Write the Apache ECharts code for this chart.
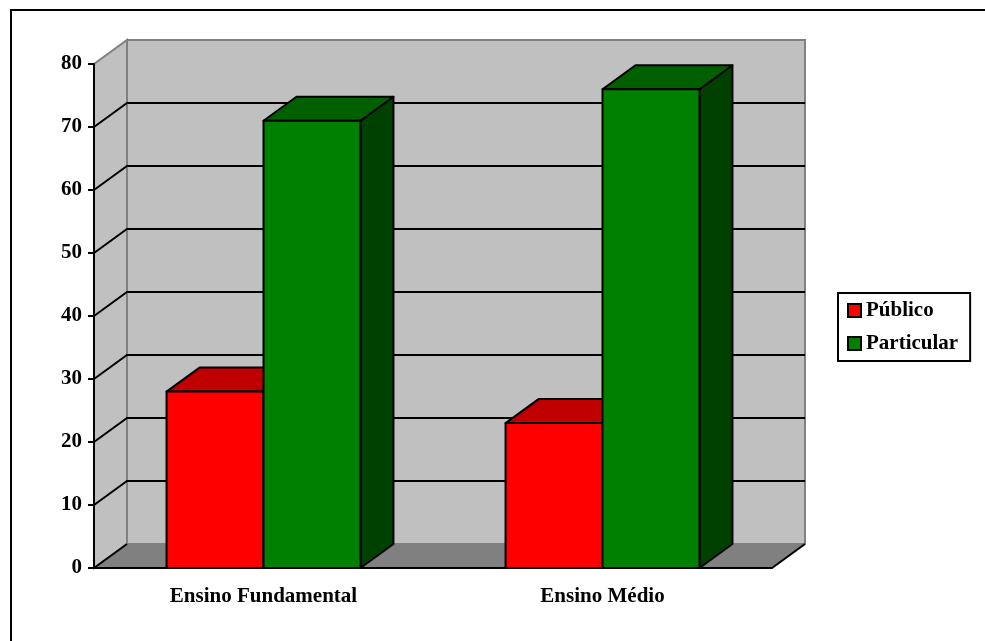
<!DOCTYPE html>
<html>
<head>
<meta charset="utf-8">
<script src="https://cdn.jsdelivr.net/npm/echarts@6/dist/echarts.min.js"></script>
<style>
  html, body { margin: 0; padding: 0; background: #fff; }
  #chart { width: 985px; height: 641px; }
</style>
</head>
<body>
<div id="chart"></div>
<script>
const categories = ['Ensino Fundamental', 'Ensino Médio']
const publico = [28, 23]
const particular = [71, 76]
const yMin = 0
const yMax = 80
const yStep = 10

// 3D depth offset of the box (px)
const DX = 33
const DY = -24
const FONT = "'Liberation Serif', 'Times New Roman', serif"

const chart = echarts.init(document.getElementById('chart'))

function wallsItem(params, api) {
  const cs = params.coordSys
  const x0 = cs.x, y0 = cs.y, w = cs.width, h = cs.height
  const yb = y0 + h
  const children = []
  // back wall
  children.push({
    type: 'rect',
    shape: { x: x0 + DX, y: y0 + DY, width: w, height: h },
    style: { fill: '#c0c0c0', stroke: '#808080', lineWidth: 2 },
  })
  // left wall
  children.push({
    type: 'polygon',
    shape: { points: [[x0, yb], [x0, y0], [x0 + DX, y0 + DY], [x0 + DX, yb + DY]] },
    style: { fill: '#c0c0c0', stroke: '#808080', lineWidth: 2 },
  })
  // floor
  children.push({
    type: 'polygon',
    shape: { points: [[x0, yb], [x0 + w, yb], [x0 + w + DX, yb + DY], [x0 + DX, yb + DY]] },
    style: { fill: '#808080', stroke: null },
  })
  children.push({
    type: 'polyline',
    shape: { points: [[x0 + DX, yb + DY], [x0, yb]] },
    style: { stroke: '#000', lineWidth: 2, fill: null },
  })
  children.push({
    type: 'polyline',
    shape: { points: [[x0 + w, yb], [x0 + w + DX, yb + DY]] },
    style: { stroke: '#000', lineWidth: 2, fill: null },
  })
  // gridlines on left + back wall
  for (let v = yMin + yStep; v < yMax; v += yStep) {
    const y = api.coord([0, v])[1]
    children.push({
      type: 'polyline',
      shape: { points: [[x0, y], [x0 + DX, y + DY], [x0 + w + DX, y + DY]] },
      style: { stroke: '#000', lineWidth: 2, fill: null },
    })
  }
  return { type: 'group', children }
}

function makeBarSeries(name, values, colors, side) {
  return {
    type: 'custom',
    name,
    z: 3,
    itemStyle: { color: colors.front, borderColor: '#000', borderWidth: 1.5 },
    data: values.map((v, i) => [i, v]),
    renderItem(params, api) {
      const top = api.coord([api.value(0), api.value(1)])
      const bottom = api.coord([api.value(0), 0])
      const band = api.size([1, 0])[0]
      const barW = band * 0.286
      const x = top[0] + side * barW
      const yT = top[1]
      const yB = bottom[1]
      const st = { stroke: '#000', lineWidth: 2, lineJoin: 'round' }
      return {
        type: 'group',
        children: [
          {
            type: 'polygon',
            shape: { points: [[x + barW, yT], [x + barW + DX, yT + DY], [x + barW + DX, yB + DY], [x + barW, yB]] },
            style: Object.assign({ fill: colors.side }, st),
          },
          {
            type: 'polygon',
            shape: { points: [[x, yT], [x + DX, yT + DY], [x + barW + DX, yT + DY], [x + barW, yT]] },
            style: Object.assign({ fill: colors.top }, st),
          },
          {
            type: 'rect',
            shape: { x, y: yT, width: barW, height: yB - yT },
            style: Object.assign({ fill: colors.front }, st),
          },
        ],
      }
    },
  }
}

const option = {
  animation: false,
  backgroundColor: '#fff',
  graphic: [
    {
      type: 'rect',
      shape: { x: 11, y: 10, width: 1000, height: 700 },
      style: { fill: null, stroke: '#000', lineWidth: 2 },
      z: -1,
    },
  ],
  grid: { left: 94, top: 64, width: 678, height: 504 },
  legend: {
    orient: 'vertical',
    left: 838,
    top: 293,
    padding: [7, 12, 7, 9],
    itemWidth: 13,
    itemHeight: 13,
    itemGap: 12,
    borderColor: '#000',
    borderWidth: 2,
    icon: 'rect',
    textStyle: { fontFamily: FONT, fontWeight: 'bold', fontSize: 21, color: '#000' },
    data: ['Público', 'Particular'],
  },
  xAxis: {
    type: 'category',
    data: categories,
    z: 10,
    axisLine: { lineStyle: { color: '#000', width: 2 } },
    axisTick: { length: 8, lineStyle: { color: '#000', width: 2 } },
    axisLabel: { margin: 18, fontFamily: FONT, fontWeight: 'bold', fontSize: 21, color: '#000' },
    splitLine: { show: false },
  },
  yAxis: {
    type: 'value',
    min: yMin,
    max: yMax,
    interval: yStep,
    z: 10,
    axisLine: { show: true, lineStyle: { color: '#000', width: 2 } },
    axisTick: { show: true, length: 6, lineStyle: { color: '#000', width: 2 } },
    axisLabel: { margin: 12, fontFamily: FONT, fontWeight: 'bold', fontSize: 21, color: '#000' },
    splitLine: { show: false },
  },
  series: [
    {
      type: 'custom',
      name: 'walls',
      z: 1,
      silent: true,
      data: [[0, 0]],
      renderItem: wallsItem,
    },
    makeBarSeries('Público', publico, { front: '#ff0000', top: '#c00000', side: '#800000' }, -1),
    makeBarSeries('Particular', particular, { front: '#008000', top: '#006000', side: '#004000' }, 0),
  ],
}

chart.setOption(option)
</script>
</body>
</html>
